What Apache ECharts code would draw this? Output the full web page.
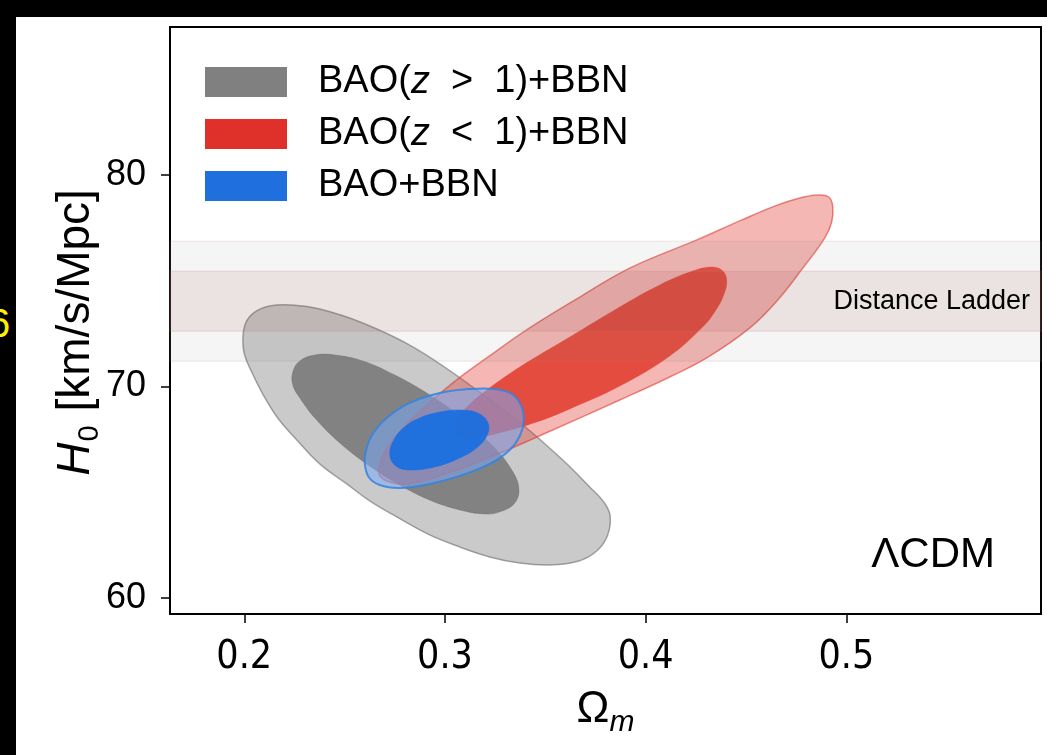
<!DOCTYPE html>
<html>
<head>
<meta charset="utf-8">
<script src="https://cdn.jsdelivr.net/npm/echarts@6/dist/echarts.min.js"></script>
<style>
html,body{margin:0;padding:0;background:#000;width:1047px;height:755px;overflow:hidden;}
#chart{position:absolute;left:16px;top:17px;width:1031px;height:738px;background:#fff;}
#six{position:absolute;left:-12px;top:303px;font-family:'Liberation Sans',Arial,sans-serif;font-size:40px;line-height:40px;color:#ffef00;}
</style>
</head>
<body>
<div id="six">6</div>
<div id="chart"></div>
<script>
// ---- axis ranges and ticks ----
const xRange = [0.163, 0.597];
const yRange = [59.24, 87.0];
const xTicks = [0.2, 0.3, 0.4, 0.5];
const yTicks = [60, 70, 80];

// ---- Distance ladder bands (H0 low, high) ----
const ladderOuter = [71.19, 76.87];
const ladderInner = [72.61, 75.45];

// ---- legend names ----
const names = ['BAO(z > 1)+BBN', 'BAO(z < 1)+BBN', 'BAO+BBN'];

// ---- contours [Omega_m, H0] ----
const grayOuter = [[0.2237,73.85],[0.2376,73.66],[0.2590,73.00],[0.2840,71.87],[0.3124,70.07],[0.3388,68.18],[0.3587,66.52],[0.3721,65.25],[0.3791,64.54],[0.3823,63.88],[0.3809,62.93],[0.3756,62.22],[0.3667,61.75],[0.3522,61.56],[0.3373,61.65],[0.3223,61.94],[0.3074,62.41],[0.2924,62.98],[0.2760,63.83],[0.2625,64.59],[0.2511,65.39],[0.2376,66.34],[0.2262,67.47],[0.2167,68.51],[0.2092,69.65],[0.2037,70.69],[0.2002,71.49],[0.1993,72.20],[0.2007,73.00],[0.2052,73.52],[0.2127,73.81]];
const grayInner = [[0.2242,70.69],[0.2277,71.21],[0.2352,71.49],[0.2451,71.49],[0.2590,71.21],[0.2750,70.54],[0.2924,69.60],[0.3098,68.42],[0.3248,67.09],[0.3333,66.05],[0.3368,65.20],[0.3348,64.49],[0.3273,64.07],[0.3198,63.97],[0.3074,64.16],[0.2924,64.63],[0.2775,65.34],[0.2625,66.24],[0.2476,67.33],[0.2352,68.51],[0.2277,69.46],[0.2242,70.07]];
const redOuter = [[0.2670,65.96],[0.2685,66.62],[0.2730,67.33],[0.2840,68.51],[0.3039,70.17],[0.3208,71.35],[0.3422,72.77],[0.3672,74.23],[0.3921,75.60],[0.4255,76.93],[0.4469,77.83],[0.4643,78.53],[0.4768,78.91],[0.4858,79.05],[0.4912,78.96],[0.4932,78.53],[0.4927,77.78],[0.4892,77.02],[0.4783,75.60],[0.4658,74.09],[0.4519,72.77],[0.4304,71.35],[0.4120,70.45],[0.3871,69.36],[0.3537,67.94],[0.3288,66.90],[0.3089,66.15],[0.2924,65.63],[0.2800,65.39],[0.2725,65.48],[0.2685,65.67]];
const redInner = [[0.3054,67.85],[0.3064,68.42],[0.3104,68.98],[0.3209,69.83],[0.3373,70.92],[0.3622,72.34],[0.3871,73.76],[0.4070,74.80],[0.4220,75.41],[0.4319,75.65],[0.4379,75.51],[0.4404,75.04],[0.4389,74.33],[0.4344,73.52],[0.4284,72.81],[0.4120,71.44],[0.3871,70.02],[0.3622,68.94],[0.3457,68.32],[0.3288,67.85],[0.3148,67.57],[0.3084,67.57]];
const blueOuter = [[0.2600,66.43],[0.2610,67.09],[0.2640,67.75],[0.2710,68.51],[0.2825,69.22],[0.2974,69.69],[0.3124,69.88],[0.3248,69.88],[0.3333,69.65],[0.3378,69.13],[0.3393,68.42],[0.3373,67.66],[0.3323,67.00],[0.3223,66.34],[0.3074,65.77],[0.2924,65.39],[0.2775,65.20],[0.2675,65.34],[0.2620,65.72]];
const blueInner = [[0.2725,66.76],[0.2745,67.47],[0.2800,68.09],[0.2874,68.51],[0.2974,68.79],[0.3074,68.89],[0.3163,68.75],[0.3213,68.32],[0.3213,67.75],[0.3163,67.14],[0.3074,66.62],[0.2949,66.19],[0.2825,66.05],[0.2755,66.24]];

const chart = echarts.init(document.getElementById('chart'), null, {renderer: 'canvas'});

function poly(name, pts, fill, stroke, lw, z) {
  return {
    type: 'custom', name: name, coordinateSystem: 'cartesian2d', z: z, silent: true, clip: true,
    data: [pts[0]], encode: {x: 0, y: 1},
    renderItem: function (params, api) {
      return {
        type: 'polygon',
        shape: {points: pts.map(function (p) { return api.coord(p); }), smooth: 0.4},
        style: {fill: fill, stroke: stroke, lineWidth: lw}
      };
    }
  };
}

function band(range, fill, stroke, label, z) {
  return {
    type: 'custom', name: 'Distance Ladder', coordinateSystem: 'cartesian2d', z: z, silent: true, clip: false,
    data: [[xRange[0], range[0], range[1]]], encode: {x: 0, y: [1, 2]},
    renderItem: function (params, api) {
      const cs = params.coordSys;
      const lo = api.coord([xRange[0], api.value(1)]);
      const hi = api.coord([xRange[0], api.value(2)]);
      const children = [{
        type: 'rect',
        shape: {x: cs.x, y: hi[1], width: cs.width, height: lo[1] - hi[1]},
        style: {fill: fill, stroke: stroke, lineWidth: 1.5}
      }];
      if (label) {
        children.push({
          type: 'text',
          style: {text: label, x: cs.x + cs.width - 11, y: (lo[1] + hi[1]) / 2,
            align: 'right', verticalAlign: 'middle', fill: '#000',
            font: '27px "Liberation Sans", Arial, sans-serif'}
        });
      }
      return {type: 'group', children: children};
    }
  };
}

const fontMain = '"Liberation Sans", Arial, sans-serif';
const legendRich = {
  a: {fontSize: 38, fontFamily: fontMain, color: '#000', lineHeight: 34},
  i: {fontSize: 38, fontFamily: fontMain, fontStyle: 'italic', color: '#000', lineHeight: 34}
};

chart.setOption({
  animation: false,
  backgroundColor: '#fff',
  grid: {left: 154, top: 10, right: 6, bottom: 141, show: true, borderColor: '#000', borderWidth: 2, backgroundColor: 'transparent'},
  legend: {
    orient: 'vertical', left: 189, top: 46, padding: 0,
    itemWidth: 82, itemHeight: 30, itemGap: 14, icon: 'rect', selectedMode: false,
    data: [
      {name: names[0], itemStyle: {color: '#808080'}},
      {name: names[1], itemStyle: {color: '#e0302a'}},
      {name: names[2], itemStyle: {color: '#1f6fde'}}
    ],
    formatter: function (n) {
      if (n.indexOf('z') >= 0) {
        const k = n.indexOf('z');
        return '{a|' + n.slice(0, k) + '}{i|z}{a|' + n.slice(k + 1).replace(' > ', '  >  ').replace(' < ', '  <  ') + '}';
      }
      return '{a|' + n + '}';
    },
    textStyle: {rich: legendRich, padding: [0, 0, 0, 26]}
  },
  xAxis: {
    type: 'value', min: xRange[0], max: xRange[1],
    splitLine: {show: false},
    axisLine: {show: true, onZero: false, lineStyle: {color: '#000', width: 2}},
    axisTick: {show: true, customValues: xTicks, length: 9, lineStyle: {color: '#000', width: 1.5}},
    axisLabel: {customValues: xTicks, formatter: function (v) { return v.toFixed(1); },
      fontSize: 39, fontFamily: '"DejaVu Sans Condensed", "Liberation Sans Narrow", sans-serif', color: '#000', margin: 24},
    name: '{a|Ω}{m|m}', nameLocation: 'middle', nameGap: 68,
    nameTextStyle: {rich: {
      a: {fontSize: 44, fontFamily: fontMain, color: '#000', lineHeight: 56, verticalAlign: 'middle'},
      m: {fontSize: 30, fontFamily: fontMain, fontStyle: 'italic', color: '#000', lineHeight: 26, verticalAlign: 'bottom'}
    }}
  },
  yAxis: {
    type: 'value', min: yRange[0], max: yRange[1],
    splitLine: {show: false},
    axisLine: {show: true, onZero: false, lineStyle: {color: '#000', width: 2}},
    axisTick: {show: true, customValues: yTicks, length: 9, lineStyle: {color: '#000', width: 1.5}},
    axisLabel: {customValues: yTicks, fontSize: 36, fontFamily: fontMain, color: '#000', margin: 24},
    name: '{i|H}{s|0}{a|[km/s/Mpc]}', nameLocation: 'middle', nameGap: 66, nameRotate: 90,
    nameMoveOverlap: false,
    nameTextStyle: {rich: {
      i: {fontSize: 46, fontFamily: fontMain, fontStyle: 'italic', color: '#000', lineHeight: 56, verticalAlign: 'middle'},
      s: {fontSize: 29, fontFamily: fontMain, color: '#000', lineHeight: 25, verticalAlign: 'bottom', padding: [0, 14, 0, 1]},
      a: {fontSize: 46, fontFamily: fontMain, color: '#000', lineHeight: 56, verticalAlign: 'middle', padding: [0, 24, 0, 0]}
    }}
  },
  graphic: [{
    type: 'text', right: 52, top: 517, z: 100,
    style: {text: 'ΛCDM', fill: '#000', font: '42px "Liberation Sans", Arial, sans-serif'}
  }],
  series: [
    poly(names[0], grayOuter, 'rgba(128,128,128,0.42)', 'rgba(110,110,110,0.6)', 1.5, 2),
    poly(names[0], grayInner, 'rgba(85,85,85,0.62)', 'rgba(85,85,85,0.3)', 1, 3),
    poly(names[1], redOuter, 'rgba(224,48,40,0.35)', 'rgba(224,60,50,0.6)', 1.5, 4),
    poly(names[1], redInner, 'rgba(224,52,36,0.82)', 'rgba(224,52,36,0.3)', 1, 5),
    poly(names[2], blueOuter, 'rgba(120,170,245,0.55)', 'rgba(50,130,225,0.85)', 2, 6),
    poly(names[2], blueInner, 'rgba(20,110,225,0.9)', 'rgba(20,110,225,0.4)', 1, 7),
    band(ladderOuter, 'rgba(128,128,128,0.08)', 'rgba(200,120,120,0.12)', null, 8),
    band(ladderInner, 'rgba(150,60,60,0.1)', 'rgba(200,120,120,0.15)', 'Distance Ladder', 9)
  ]
});
</script>
</body>
</html>
